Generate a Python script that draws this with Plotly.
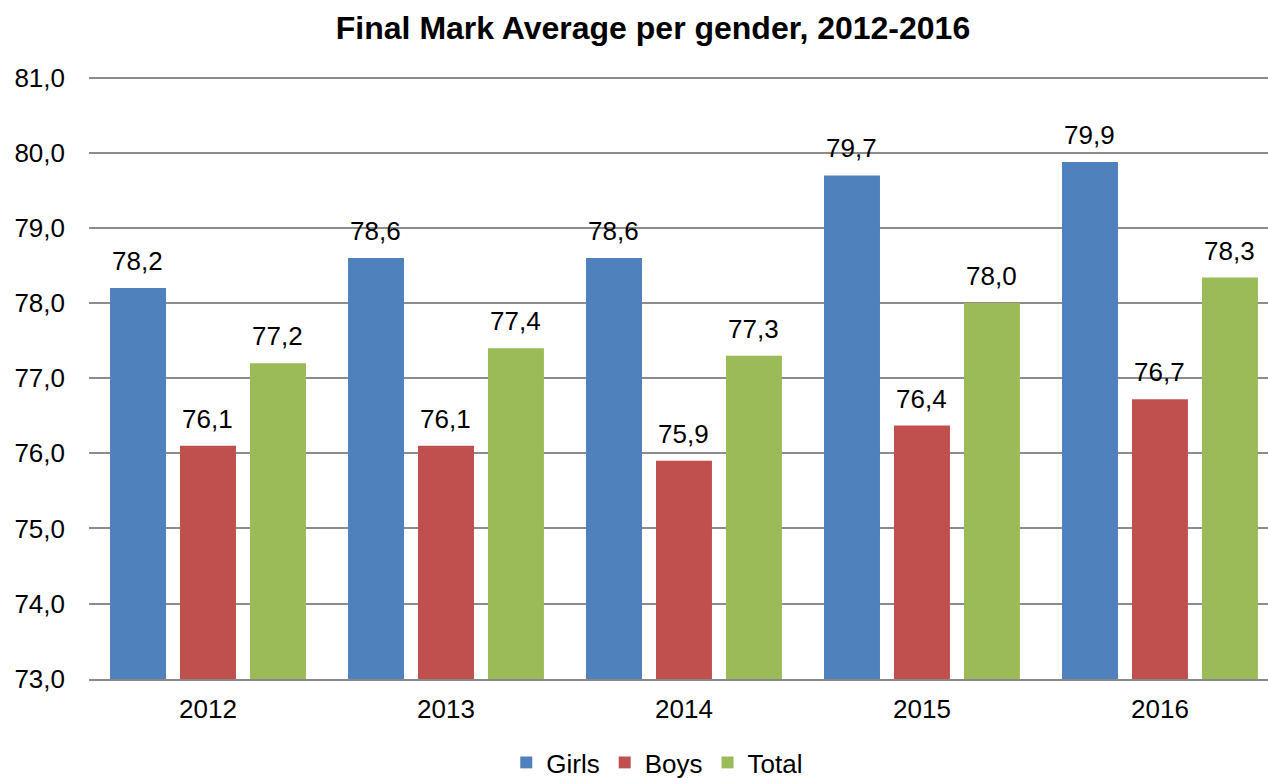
import plotly.graph_objects as go

years = ["2012", "2013", "2014", "2015", "2016"]
girls = [78.2, 78.6, 78.6, 79.7, 79.88]
boys = [76.1, 76.1, 75.9, 76.37, 76.72]
total = [77.2, 77.4, 77.3, 78.0, 78.34]
y_ticks = [73, 74, 75, 76, 77, 78, 79, 80, 81]

FONT = "Liberation Sans, Arial, sans-serif"

series = [("Girls", girls, "#4F81BD", -70), ("Boys", boys, "#C0504D", 0), ("Total", total, "#9BBB59", 70)]

fig = go.Figure()
for name, vals, col, _ in series:
    fig.add_trace(go.Bar(
        x=years, y=vals, name=name, marker_color=col, marker_line_width=0,
    ))

annotations = []
for name, vals, col, dx in series:
    for i, v in enumerate(vals):
        annotations.append(dict(
            x=i, y=v, xref="x", yref="y", text=f"{v:.1f}".replace(".", ","),
            showarrow=False, xanchor="center", yanchor="bottom", xshift=dx, yshift=10,
            font=dict(size=26, color="#000000", family=FONT),
        ))

fig.update_layout(
    width=1268, height=778,
    paper_bgcolor="white", plot_bgcolor="white",
    separators=",.",
    font=dict(family=FONT, size=26, color="#000000"),
    title=dict(text="<b>Final Mark Average per gender, 2012-2016</b>", x=0.515, xanchor="center",
               y=0.964, yanchor="middle", font=dict(size=32, family=FONT), automargin=False),
    margin=dict(l=89, r=0, t=74, b=99, autoexpand=False),
    barmode="group", bargap=0.118, bargroupgap=0.2,
    showlegend=True,
    legend=dict(orientation="h", x=0.482, xanchor="center", y=-0.138, yanchor="middle",
                font=dict(size=26, family=FONT), itemwidth=30, traceorder="normal",
                tracegroupgap=0),
    annotations=annotations,
)
fig.update_xaxes(type="category", range=[-0.5, 4.454], showline=True, linecolor="#888888", linewidth=2,
                 ticks="", tickfont=dict(size=26), ticklabelstandoff=6, automargin=False)
fig.update_yaxes(range=[72.995, 81.05], tickvals=y_ticks, tickformat=".1f", showgrid=True, gridcolor="#8c8c8c",
                 gridwidth=2, zeroline=False, showline=False, ticks="", ticklabelstandoff=23,
                 tickfont=dict(size=26), automargin=False)

fig.write_html("out.html", config={"displayModeBar": False},
               post_script="document.body.style.margin='0';")
